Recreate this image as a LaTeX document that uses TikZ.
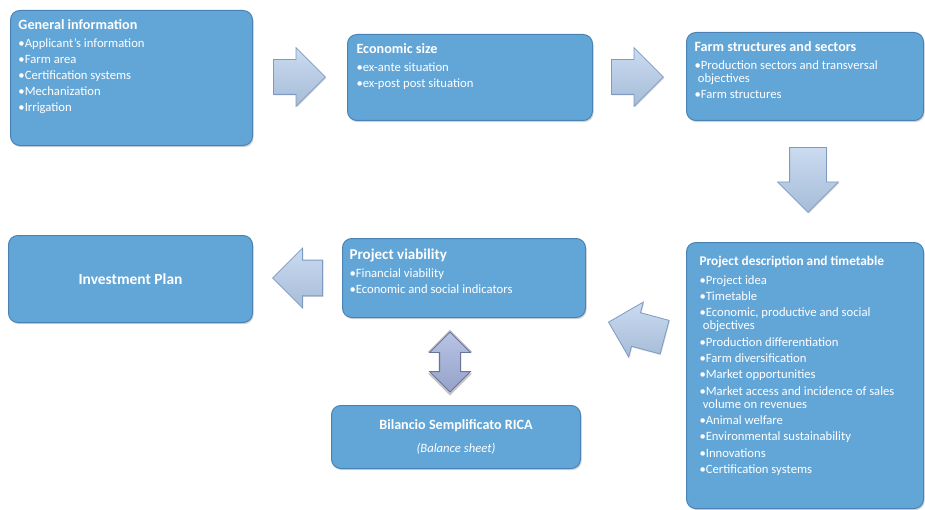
\documentclass[tikz,border=0pt]{standalone}
\usepackage{fontspec}
\setmainfont{Carlito}
\usetikzlibrary{shapes.arrows,shadows}

\definecolor{boxblue}{RGB}{98,166,216}
\definecolor{boxedge}{RGB}{74,130,180}
\definecolor{arrowfill}{RGB}{180,204,234}
\definecolor{arrowedge}{RGB}{124,154,194}
\definecolor{dblfill}{RGB}{166,180,222}
\definecolor{dbledge}{RGB}{104,116,156}

\newcommand{\ttl}[2][10.6]{{\fontsize{#1}{12}\selectfont\bfseries #2}}
\newcommand{\itm}{\textbullet}
\newcommand{\cont}{\hspace*{2.5pt}}

\tikzset{every picture/.style={line width=0.75pt}}

\begin{document}
\begin{tikzpicture}[x=0.75pt,y=0.75pt,yscale=-1,xscale=1,
	box/.style={rectangle, rounded corners=7pt, fill=boxblue, draw=boxedge, inner sep=0pt, text=white,
		font=\fontsize{9.5}{9.75}\selectfont, align=center,
		drop shadow={shadow xshift=0.8pt, shadow yshift=-1.2pt, opacity=0.35}},
	boxtext/.style={anchor=north west, inner sep=0pt, align=left, text=white, font=\fontsize{9.5}{9.75}\selectfont},
	blockarrow/.style={single arrow, top color=arrowfill!70!white, bottom color=arrowfill!92!black, draw=arrowedge,
		line width=0.6pt, inner xsep=0pt, inner ysep=12.75pt, single arrow head extend=9pt,
		drop shadow={shadow xshift=0.6pt, shadow yshift=-0.8pt, opacity=0.3}},
	dblarrow/.style={double arrow, top color=dblfill!80!white, bottom color=dblfill!90!black, draw=dbledge,
		line width=0.6pt, inner xsep=0pt, inner ysep=7.5pt, double arrow head extend=7.5pt,
		drop shadow={shadow xshift=0pt, shadow yshift=-0.5pt, shadow scale=1.1, opacity=0.45}}]
	\useasboundingbox (0,0) rectangle (925,510);
	\clip (0,0) rectangle (925,510);

	%Boxes
	\node[box, anchor=north west, minimum width=181.5pt, minimum height=101.25pt] (geninfo) at (10,10) {};
	\node[box, anchor=north west, minimum width=183.75pt, minimum height=64.5pt] (ecosize) at (347,34) {};
	\node[box, anchor=north west, minimum width=177.75pt, minimum height=66pt] (farmstruct) at (686,32) {};
	\node[box, anchor=north west, minimum width=177.75pt, minimum height=199.5pt] (projdesc) at (686,242) {};
	\node[box, anchor=north west, minimum width=182.25pt, minimum height=59.25pt] (projviab) at (342,238) {};
	\node[box, anchor=north west, minimum width=183pt, minimum height=65.25pt] (invplan) at (8,235) {\ttl[11.6]{Investment Plan}};
	\node[box, anchor=north west, minimum width=186.75pt, minimum height=47.25pt] (bilancio) at (331,405)
		{\ttl{Bilancio Semplificato RICA}\\[8pt] \textit{(Balance sheet)}};

	%Box contents
	\node[boxtext] (geninfo-txt) at (18,19) {\ttl{General information}\\[4pt]
		\itm Applicant's information\\[2.25pt]
		\itm Farm area\\[2.25pt]
		\itm Certification systems\\[2.25pt]
		\itm Mechanization\\[2.25pt]
		\itm Irrigation};
	\node[boxtext] (ecosize-txt) at (356,43) {\ttl{Economic size}\\[4pt]
		\itm ex-ante situation\\[2.25pt]
		\itm ex-post post situation};
	\node[boxtext] (farmstruct-txt) at (694,41) {\ttl{Farm structures and sectors}\\[4pt]
		\itm Production sectors and transversal\\
		\cont objectives\\[2.25pt]
		\itm Farm structures};
	\node[boxtext] (projdesc-txt) at (699,256) {\ttl[10]{Project description and timetable}\\[4pt]
		\itm Project idea\\[2.5pt]
		\itm Timetable\\[2.5pt]
		\itm Economic, productive and social\\
		\cont objectives\\[2.5pt]
		\itm Production differentiation\\[2.5pt]
		\itm Farm diversification\\[2.5pt]
		\itm Market opportunities\\[2.5pt]
		\itm Market access and incidence of sales\\
		\cont volume on revenues\\[2.5pt]
		\itm Animal welfare\\[2.5pt]
		\itm Environmental sustainability\\[2.5pt]
		\itm Innovations\\[2.5pt]
		\itm Certification systems};
	\node[boxtext] (projviab-txt) at (349,248) {\ttl[11.3]{Project viability}\\[4pt]
		\itm Financial viability\\[2.25pt]
		\itm Economic and social indicators};

	%Block arrows
	\node[blockarrow, minimum height=39pt, anchor=tail] (arr-gen-eco) at (273,77) {};
	\node[blockarrow, minimum height=39pt, anchor=tail] (arr-eco-farm) at (611,77) {};
	\node[blockarrow, minimum height=48.75pt, inner ysep=13.5pt, rotate=-90, anchor=tail] (arr-farm-desc) at (808,147) {};
	\node[blockarrow, minimum height=43.5pt, single arrow head extend=8.25pt, rotate=165, anchor=tip] (arr-desc-viab) at (608,322) {};
	\node[blockarrow, minimum height=37.5pt, inner ysep=13.1pt, rotate=180, anchor=tail] (arr-viab-plan) at (323,278) {};
	\node[dblarrow, minimum height=45pt, rotate=90] (arr-viab-bil) at (450,362) {};

\end{tikzpicture}
\end{document}
